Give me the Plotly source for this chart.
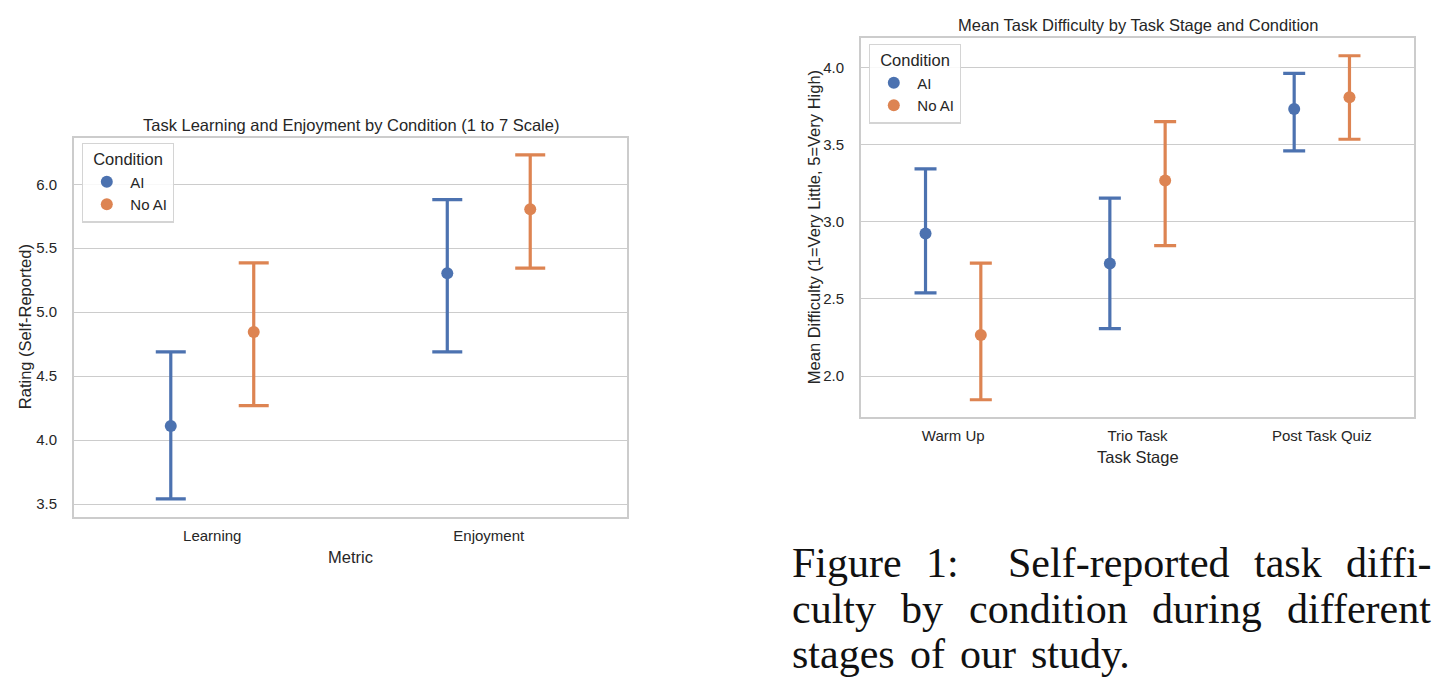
import plotly.graph_objects as go

W, H = 1433, 683

# ---------------- data ----------------
conditions = ["AI", "No AI"]

metrics = ["Learning", "Enjoyment"]
left_ai_mean = [4.11, 5.305]
left_ai_low = [3.54, 4.69]
left_ai_high = [4.69, 5.88]
left_noai_mean = [4.845, 5.805]
left_noai_low = [4.27, 5.345]
left_noai_high = [5.385, 6.23]

stages = ["Warm Up", "Trio Task", "Post Task Quiz"]
right_ai_mean = [2.924, 2.730, 3.732]
right_ai_low = [2.539, 2.308, 3.461]
right_ai_high = [3.344, 3.154, 3.964]
right_noai_mean = [2.266, 3.268, 3.808]
right_noai_low = [1.846, 2.846, 3.536]
right_noai_high = [2.732, 3.651, 4.078]

left_title = "Task Learning and Enjoyment by Condition (1 to 7 Scale)"
right_title = "Mean Task Difficulty by Task Stage and Condition"
left_xlabel = "Metric"
left_ylabel = "Rating (Self-Reported)"
right_xlabel = "Task Stage"
right_ylabel = "Mean Difficulty (1=Very Little, 5=Very High)"

caption_lines = [
    ["Figure", "1:", "Self-reported", "task", "diffi-"],
    ["culty", "by", "condition", "during", "different"],
    ["stages", "of", "our", "study."],
]

# ---------------- style ----------------
colors = {"AI": "#4C72B0", "No AI": "#DD8452"}
TXT = "#262626"
GRID = "#cccccc"
SANS = "Liberation Sans, Arial, sans-serif"
SERIF = "Liberation Serif, Times New Roman, serif"


def px(x):
    return x / W


def py(y):
    return 1 - y / H


fig = go.Figure()


def add_series(xcats, mean, low, high, name, xa, ya, legend, cap):
    fig.add_trace(go.Scatter(
        x=xcats, y=mean, name=name, mode="markers",
        xaxis=xa, yaxis=ya, legend=legend,
        marker=dict(color=colors[name], size=12, line=dict(width=0)),
        error_y=dict(
            type="data", symmetric=False,
            array=[h - m for h, m in zip(high, mean)],
            arrayminus=[m - l for m, l in zip(mean, low)],
            color=colors[name], thickness=3.2, width=cap,
        ),
        offsetgroup=name,
    ))


add_series(metrics, left_ai_mean, left_ai_low, left_ai_high, "AI", "x", "y", "legend", 15)
add_series(metrics, left_noai_mean, left_noai_low, left_noai_high, "No AI", "x", "y", "legend", 15)
add_series(stages, right_ai_mean, right_ai_low, right_ai_high, "AI", "x2", "y2", "legend2", 11)
add_series(stages, right_noai_mean, right_noai_low, right_noai_high, "No AI", "x2", "y2", "legend2", 11)

axis_common = dict(
    showline=True, mirror=True, linecolor=GRID, linewidth=1.7,
    zeroline=False, ticks="", tickfont=dict(family=SANS, size=15, color=TXT),
)

legend_common = dict(
    xanchor="left", yanchor="top",
    bgcolor="rgba(255,255,255,0.85)", bordercolor="#d4d4d4", borderwidth=1.3,
    font=dict(family=SANS, size=15, color=TXT),
    title=dict(text="Condition", side="top center", font=dict(family=SANS, size=16.5, color=TXT)),
    itemsizing="constant", itemwidth=37,
)

fig.update_layout(
    width=W, height=H, autosize=False,
    margin=dict(l=0, r=0, t=0, b=0),
    paper_bgcolor="white", plot_bgcolor="white",
    scattermode="group", scattergap=0.4,
    font=dict(family=SANS, color=TXT),
    xaxis=dict(domain=[px(74), px(627)], anchor="y", type="category",
               range=[-0.5, 1.5], showgrid=False, ticklabelstandoff=4, **axis_common),
    yaxis=dict(domain=[py(516.7), py(137.7)], anchor="x", range=[3.401, 6.364],
               dtick=0.5, tick0=3.5, tickformat=".1f", showgrid=True,
               gridcolor=GRID, gridwidth=1.3, ticklabelstandoff=12, **axis_common),
    xaxis2=dict(domain=[px(861), px(1414)], anchor="y2", type="category",
                range=[-0.5, 2.5], showgrid=False, ticklabelstandoff=4, **axis_common),
    yaxis2=dict(domain=[py(416.7), py(37.7)], anchor="x2", range=[1.736, 4.195],
                dtick=0.5, tick0=2.0, tickformat=".1f", showgrid=True,
                gridcolor=GRID, gridwidth=1.3, ticklabelstandoff=12, **axis_common),
    legend=dict(x=px(82), y=py(142.7), **legend_common),
    legend2=dict(x=px(869), y=py(43.7), **legend_common),
)

ann = []


def label(text, x, y, size=16.5, angle=0, family=SANS, xanchor="center", yanchor="middle"):
    ann.append(dict(text=text, x=px(x), y=py(y), xref="paper", yref="paper",
                    showarrow=False, textangle=angle, xanchor=xanchor, yanchor=yanchor,
                    font=dict(family=family, size=size, color=TXT if family == SANS else "#111111")))


label(left_title, 350.5, 125)
label(right_title, 1137.5, 25)
label(left_xlabel, 350.5, 556.7)
label(left_ylabel, 25, 327.2, angle=-90)
label(right_xlabel, 1137.5, 456.7)
label(right_ylabel, 814, 227.2, angle=-90)

# ---- caption: justified text block (layout only) ----
CAP_SIZE = 42
CAP_LEFT, CAP_RIGHT = 790, 1430
# Liberation Serif advance widths (1/1000 em) for the glyphs used
_w = {"F": 556, "S": 556, "a": 444, "b": 500, "c": 444, "d": 500, "e": 444, "f": 333,
      "g": 500, "i": 278, "k": 500, "l": 278, "n": 500, "o": 500, "p": 500, "r": 333,
      "s": 389, "t": 278, "u": 500, "y": 500, "-": 333, ".": 250, ":": 278, "1": 500}


def word_w(w):
    return sum(_w.get(ch, 500) for ch in w) / 1000 * CAP_SIZE


caption_baseline = [576.7, 623.2, 668.3]
for li, (words, base) in enumerate(zip(caption_lines, caption_baseline)):
    widths = [word_w(w) for w in words]
    if li < len(caption_lines) - 1:
        # stretch inter-word gaps; gap after a colon gets double weight (TeX space factor)
        weights = [2.0 if words[i].endswith(":") else 1.0 for i in range(len(words) - 1)]
        unit = (CAP_RIGHT - CAP_LEFT - sum(widths)) / sum(weights)
        gaps = [wt * unit for wt in weights]
    else:
        gaps = [15.0] * (len(words) - 1)
    x = CAP_LEFT
    for i, w in enumerate(words):
        label(w, x, base - 14.2, size=CAP_SIZE, family=SERIF, xanchor="left")
        if i < len(gaps):
            x += widths[i] + gaps[i]

fig.update_layout(annotations=ann)
fig.write_html("out.html")
